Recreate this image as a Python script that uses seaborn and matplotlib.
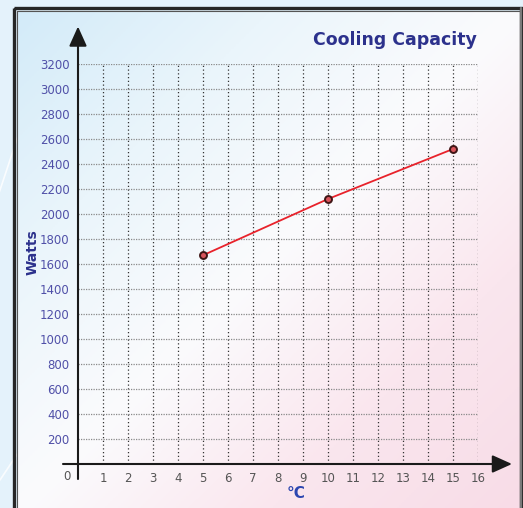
import numpy as np
import matplotlib
matplotlib.use("Agg")
import matplotlib.pyplot as plt
import seaborn as sns
from matplotlib.patches import Rectangle
from matplotlib.colors import LinearSegmentedColormap

# chart data
temps = [5, 10, 15]
watts = [1670, 2120, 2520]
x_ticks = list(range(1, 17))
y_ticks = list(range(200, 3201, 200))

title = "Cooling Capacity"
x_label = "°C"
y_label = "Watts"

W, H = 523, 508

sns.set_style("white")
plt.rcParams['font.family'] = ['DejaVu Sans']

fig = plt.figure(figsize=(W / 100, H / 100), dpi=100)

# background: outer panel + gradient card
bg = fig.add_axes([0, 0, 1, 1], zorder=-2)
bg.set_xlim(0, W)
bg.set_ylim(H, 0)
bg.axis("off")
bg.add_patch(Rectangle((0, 0), W, H, color="#e4f2fb", zorder=0))
for x0 in [-40, 260, 470, 680]:
    bg.plot([x0, x0 + 90], [150 + (x0 % 200), 40], color="white", lw=1.2, alpha=0.8, zorder=1)
bg.plot([0, 40], [480, 420], color="white", lw=1.2, alpha=0.8, zorder=1)

yy, xx = np.mgrid[0:1:200j, 0:1:200j]
t = (xx + yy) / 2
cmap = LinearSegmentedColormap.from_list(
    "card", ["#d3ebf9", "#eaf5fb", "#fbfbfd", "#fae6ee", "#f8dce7"])
bg.imshow(cmap(t), extent=(17, 520, H + 5, 11), aspect="auto", zorder=2)

bg.add_patch(Rectangle((13.5, 7.5), 507, H, fill=False, ec="#262626", lw=2.4, zorder=3))
bg.add_patch(Rectangle((17, 11), 503, H, fill=False, ec="#555555", lw=0.8, zorder=3))
bg.plot([520.5, 520.5], [8, H], color="#7a7a7a", lw=1.6, zorder=3)

# main axes: x 0..16 -> px 78..478, y 0..3200 -> px 464..64
ax = fig.add_axes([78 / W, 44 / H, 400 / W, 400 / H])
ax.set_facecolor("none")
ax.set_xlim(0, 16)
ax.set_ylim(0, 3200)
for s in ax.spines.values():
    s.set_visible(False)

ax.set_xticks(x_ticks)
ax.set_yticks(y_ticks)
ax.set_xticklabels([str(v) for v in x_ticks], color="#555555", fontsize=8.5)
ax.set_yticklabels([str(v) for v in y_ticks], color="#5050a8", fontsize=8.5)
ax.tick_params(axis="x", length=0, pad=6)
ax.tick_params(axis="y", length=0, pad=6)
ax.grid(True, axis="x", color="#333333", linestyle=(0, (1, 2)), lw=0.9)
ax.grid(True, axis="y", color="#8a8a8a", linestyle=(0, (1, 1)), lw=0.9)
ax.text(-0.45, -100, "0", color="#555555", fontsize=8.5, ha="center", va="center")

# axis arrows
arrow = dict(arrowstyle="-|>,head_length=1.0,head_width=0.45", mutation_scale=12,
             lw=1.5, color="#1a1a1a", shrinkA=0, shrinkB=0)
ax.annotate("", xy=(17.36, 0), xytext=(-0.6, 0), arrowprops=arrow, annotation_clip=False)
ax.annotate("", xy=(0, 3500), xytext=(0, -120), arrowprops=arrow, annotation_clip=False)

sns.lineplot(x=temps, y=watts, ax=ax, color="#e8222b", lw=1.3, marker="o",
             markersize=5, markerfacecolor="#d9545b", markeredgecolor="#3f1515",
             markeredgewidth=1.4, zorder=5)

fig.text(477 / W, 1 - 40 / H, title, ha="right", va="center", fontsize=12.5,
         fontweight="bold", color="#2c318c")
fig.text(33 / W, 1 - 252 / H, y_label, ha="center", va="center", rotation=90,
         fontsize=10, fontweight="bold", color="#2c318c")
fig.text(296 / W, 1 - 493 / H, x_label, ha="center", va="center", fontsize=11,
         fontweight="bold", color="#2c46b0")

fig.savefig("out.png", dpi=100)
